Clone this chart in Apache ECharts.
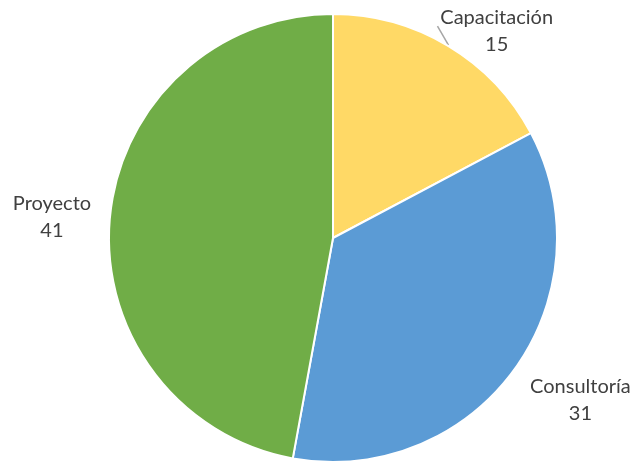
<!DOCTYPE html>
<html>
<head>
<meta charset="utf-8">
<script src="https://cdn.jsdelivr.net/npm/echarts@6/dist/echarts.min.js"></script>
<style>html,body{margin:0;padding:0;background:#fff;}#c{width:635px;height:462px;}</style>
</head>
<body>
<div id="c"></div>
<script>
var categories = ['Capacitación', 'Consultoría', 'Proyecto'];
var values = [15, 31, 41];
var colors = ['#FFD966', '#5B9BD5', '#70AD47'];
var showLeader = [true, false, false];
var labelShift = [[37, -5], [52, 23], [-41, 0]];
var leaderVector = [-11, -19];

var chart = echarts.init(document.getElementById('c'), null, {renderer: 'canvas'});
var data = categories.map(function (name, i) {
  return {
    name: name,
    value: values[i],
    itemStyle: {color: colors[i]},
    labelLine: {show: showLeader[i]}
  };
});
chart.setOption({
  animation: false,
  series: [{
    type: 'pie',
    center: [333, 238],
    radius: 224,
    startAngle: 90,
    clockwise: true,
    avoidLabelOverlap: false,
    emphasis: {disabled: true},
    itemStyle: {borderColor: '#ffffff', borderWidth: 2},
    label: {
      show: true,
      position: 'outside',
      formatter: '{b}\n{c}',
      fontFamily: 'Lato',
      fontSize: 20,
      lineHeight: 27,
      color: '#404040'
    },
    labelLine: {
      length: 12,
      length2: 0,
      lineStyle: {color: '#a6a6a6', width: 1.5}
    },
    labelLayout: function (p) {
      var s = labelShift[p.dataIndex];
      var out = {dx: s[0], dy: s[1], align: 'center'};
      if (showLeader[p.dataIndex] && p.labelLinePoints) {
        var a = p.labelLinePoints[0];
        out.labelLinePoints = [[a[0], a[1] - 1], [a[0] + leaderVector[0], a[1] - 1 + leaderVector[1]]];
      }
      return out;
    },
    data: data
  }]
});
</script>
</body>
</html>
